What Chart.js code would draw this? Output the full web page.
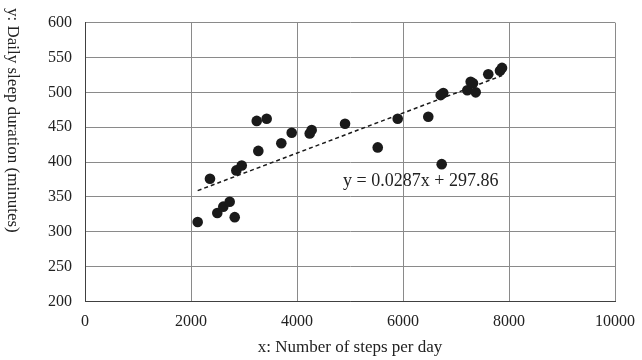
<!DOCTYPE html>
<html>
<head>
<meta charset="utf-8">
<script src="https://cdn.jsdelivr.net/npm/chart.js@4/dist/chart.umd.min.js"></script>
<style>
  html, body { margin: 0; padding: 0; background: #fff; }
  #wrap { width: 642px; height: 360px; }
</style>
</head>
<body>
<div id="wrap"><canvas id="sleepChart" width="642" height="360"></canvas></div>
<script>
// steps per day vs daily sleep minutes
const stepsPerDay = [2126, 2358, 2496, 2609, 2730, 2825, 2855, 2957, 3240, 3270,
  3428, 3704, 3900, 4240, 4277, 4906, 5523, 5900, 6477, 6730,
  6711, 6760, 7213, 7277, 7321, 7372, 7609, 7830, 7868];
const sleepMinutes = [314, 376, 327, 336, 343, 321, 388, 395, 459, 416,
  462, 427, 442, 441, 446, 455, 421, 462, 465, 397,
  496, 499, 503, 515, 513, 500, 526, 531, 535];

// linear trend, y = 0.0287x + 297.86, drawn between the end points
const trendX = [2126, 7868];
const trendY = [359, 524];
const trendLabel = 'y = 0.0287x + 297.86';

const xTicks = [0, 2000, 4000, 6000, 8000, 10000];
const yTicks = [200, 250, 300, 350, 400, 450, 500, 550, 600];

const xTitle = 'x: Number of steps per day';
const yTitle = 'y: Daily sleep duration (minutes)';

const FONT = "'Liberation Serif', 'Times New Roman', serif";
const TEXT = '#222';

// equation text next to the trend line
const equationLabel = {
  id: 'equationLabel',
  afterDatasetsDraw(chart, args, opts) {
    const { ctx, scales } = chart;
    ctx.save();
    ctx.font = `18px ${FONT}`;
    ctx.fillStyle = TEXT;
    ctx.textBaseline = 'alphabetic';
    ctx.fillText(opts.text, scales.x.getPixelForValue(opts.x), scales.y.getPixelForValue(opts.y));
    ctx.restore();
  },
};

// y title reads top to bottom, which the built-in title can't do
const sideTitle = {
  id: 'sideTitle',
  afterDraw(chart, args, opts) {
    const { ctx } = chart;
    ctx.save();
    ctx.font = `17px ${FONT}`;
    ctx.fillStyle = TEXT;
    ctx.translate(opts.left, opts.top);
    ctx.rotate(Math.PI / 2);
    ctx.textAlign = 'left';
    ctx.textBaseline = 'middle';
    ctx.fillText(opts.text, 0, 0);
    ctx.restore();
  },
};

const points = stepsPerDay.map((x, i) => ({ x, y: sleepMinutes[i] }));
const trend = trendX.map((x, i) => ({ x, y: trendY[i] }));

new Chart(document.getElementById('sleepChart'), {
  type: 'scatter',
  data: {
    datasets: [
      {
        data: points,
        pointRadius: 5.3,
        pointHoverRadius: 5.3,
        pointBackgroundColor: '#1a1a1a',
        pointBorderWidth: 0,
      },
      {
        data: trend,
        showLine: true,
        pointRadius: 0,
        borderColor: '#1a1a1a',
        borderWidth: 1.5,
        borderDash: [4, 3],
      },
    ],
  },
  options: {
    responsive: false,
    animation: false,
    layout: { padding: { top: 15, right: 27, left: 0, bottom: 0 } },
    plugins: {
      legend: { display: false },
      tooltip: { enabled: false },
      equationLabel: { text: trendLabel, x: 4870, y: 366 },
      sideTitle: { text: yTitle, left: 12, top: 8 },
    },
    scales: {
      x: {
        type: 'linear',
        min: 0,
        max: 10000,
        afterBuildTicks: (s) => { s.ticks = xTicks.map((v) => ({ value: v })); },
        afterFit: (s) => {
          s.height = 58.5;
          // let layout.padding decide the right edge, not the last label
          s.paddingLeft = 0;
          s.paddingRight = 0;
        },
        grid: { color: '#8a8a8a', lineWidth: 1, drawTicks: false },
        border: { color: '#404040', width: 1 },
        ticks: {
          padding: 11,
          color: TEXT,
          font: { family: FONT, size: 16 },
          callback: (v) => String(v),
        },
        title: {
          display: true,
          text: xTitle,
          color: TEXT,
          font: { family: FONT, size: 17 },
          padding: { top: 0, bottom: 2 },
        },
      },
      y: {
        type: 'linear',
        min: 200,
        max: 600,
        afterBuildTicks: (s) => { s.ticks = yTicks.map((v) => ({ value: v })); },
        afterFit: (s) => { s.width = 85; },
        grid: { color: '#8a8a8a', lineWidth: 1, drawTicks: false },
        border: { color: '#404040', width: 1 },
        ticks: {
          padding: 13,
          color: TEXT,
          font: { family: FONT, size: 16 },
          callback: (v) => String(v),
        },
      },
    },
  },
  plugins: [equationLabel, sideTitle],
});
</script>
</body>
</html>
